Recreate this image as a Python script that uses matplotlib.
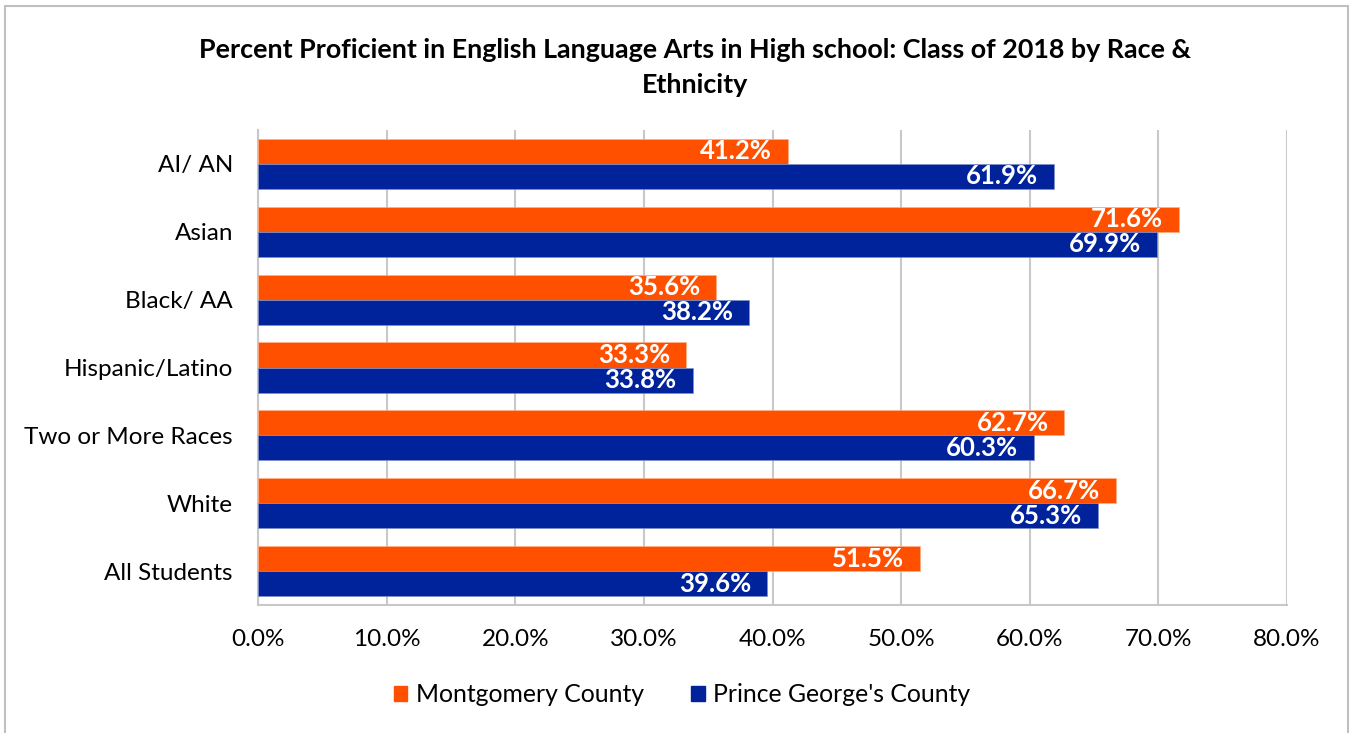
import matplotlib
matplotlib.use("Agg")
import matplotlib.pyplot as plt
from matplotlib.patches import Rectangle
import numpy as np

categories = ["AI/ AN", "Asian", "Black/ AA", "Hispanic/Latino", "Two or More Races", "White", "All Students"]
montgomery = [41.2, 71.6, 35.6, 33.3, 62.7, 66.7, 51.5]
prince_georges = [61.9, 69.9, 38.2, 33.8, 60.3, 65.3, 39.6]
series_names = ["Montgomery County", "Prince George's County"]
xticks = [0, 10, 20, 30, 40, 50, 60, 70, 80]

ORANGE = "#FF5000"
BLUE = "#00239C"
FONT = ["Lato", "DejaVu Sans"]
plt.rcParams['font.family'] = FONT

W, H = 1351, 733
fig = plt.figure(figsize=(W/100, H/100), dpi=100)
ax = fig.add_axes([258/W, 1-605/H, (1287-258)/W, (605-130)/H])

y = np.arange(len(categories))
bh = 0.37
b1 = ax.barh(y - bh/2, montgomery, height=bh, color=ORANGE, edgecolor="#FFB08A", linewidth=0.5, zorder=3)
b2 = ax.barh(y + bh/2, prince_georges, height=bh, color=BLUE, edgecolor="#8090C8", linewidth=0.5, zorder=3)

for bars, vals in ((b1, montgomery), (b2, prince_georges)):
    for rect, v in zip(bars, vals):
        ax.annotate(f"{v:.1f}%", xy=(v, rect.get_y() + rect.get_height()/2),
                    xytext=(-11.5, 0), textcoords="offset points",
                    ha="right", va="center", color="white", fontsize=18.5,
                    fontweight="bold", zorder=4)

ax.set_xlim(0, 80)
ax.set_ylim(len(categories) - 0.5, -0.5)
ax.set_xticks(xticks)
ax.set_xticklabels([f"{t:.1f}%" for t in xticks], fontsize=17.5)
ax.set_yticks(y)
ax.set_yticklabels(categories, fontsize=17.5)
ax.tick_params(axis="x", length=0, pad=17)
ax.tick_params(axis="y", length=0, pad=18)
ax.grid(axis="x", color="#C8C8C8", linewidth=1.5, zorder=0)
for s in ("top", "right"):
    ax.spines[s].set_visible(False)
ax.spines["left"].set_color("#C8C8C8")
ax.spines["left"].set_linewidth(1.5)
ax.spines["bottom"].set_color("#C8C8C8")
ax.spines["bottom"].set_linewidth(1.5)

fig.text(695/W, 1-50/H, "Percent Proficient in English Language Arts in High school: Class of 2018 by Race &",
         ha="center", va="center", fontsize=19.4, fontweight="bold")
fig.text(695/W, 1-85/H, "Ethnicity", ha="center", va="center", fontsize=19.4, fontweight="bold")

handles = [Rectangle((0, 0), 1, 1, color=ORANGE), Rectangle((0, 0), 1, 1, color=BLUE)]
fig.legend(handles, series_names, loc="center", bbox_to_anchor=(682/W, 1-695/H), ncol=2,
           frameon=False, fontsize=17.8, handlelength=0.55, handleheight=0.55,
           handletextpad=0.35, columnspacing=1.9)

border = Rectangle((5/W, -0.05), (1348-5)/W, 1.05 - 6/H, transform=fig.transFigure,
                   fill=False, edgecolor="#C0C0C0", linewidth=1.5, clip_on=False)
fig.patches.append(border)

fig.savefig("out.png", dpi=100)
